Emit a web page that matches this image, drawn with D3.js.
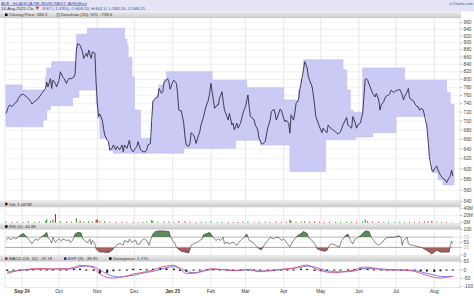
<!DOCTYPE html>
<html>
<head>
<meta charset="utf-8">
<script src="https://cdn.jsdelivr.net/npm/d3@7"></script>
<style>
body { margin: 0; background: #fff; }
svg { display: block; font-family: "Liberation Sans", Arial, sans-serif; }
</style>
</head>
<body>
<svg id="chart" width="474" height="296"></svg>
<script>
// days are calendar days counted from 19 Aug 2024
var startDate = new Date(2024, 7, 19);

// closing price [day, close]
var closes = [[0,717],[2,733],[3,737],[5,733],[7,741],[9,745],[10,753],[12,761],[14,763],[16,758],[18,753],[20,745],[21,739],[23,745],[25,749],[27,756],[29,765],[30,769],[32,777],[33,793],[34,781],[36,802],[37,777],[38,798],[40,790],[41,781],[43,798],[44,820],[46,806],[47,802],[49,790],[50,798],[51,802],[53,802],[55,806],[56,815],[57,879],[58,898],[60,893],[62,874],[63,856],[65,870],[66,861],[67,879],[69,856],[70,874],[72,870],[73,793],[74,741],[75,710],[76,716],[78,702],[79,684],[80,669],[82,658],[83,655],[84,638],[86,641],[87,648],[89,638],[90,645],[92,638],[94,648],[95,634],[96,648],[98,641],[100,658],[101,641],[103,634],[104,638],[106,645],[107,655],[109,638],[111,634],[113,634],[114,638],[115,648],[117,651],[118,700],[119,745],[121,753],[123,756],[124,777],[126,765],[127,769],[128,793],[130,798],[131,802],[132,793],[133,775],[135,793],[136,798],[138,790],[139,765],[140,725],[142,723],[144,695],[145,665],[146,648],[148,645],[149,651],[150,674],[152,669],[153,662],[154,651],[156,669],[157,676],[158,691],[160,709],[161,721],[162,733],[164,749],[165,765],[166,790],[168,749],[169,729],[171,737],[172,737],[173,753],[175,769],[176,745],[177,725],[179,710],[180,702],[181,718],[183,691],[184,695],[185,680],[187,695],[188,684],[190,695],[191,706],[192,718],[194,733],[196,761],[197,733],[198,710],[200,706],[201,702],[202,691],[204,680],[205,662],[207,651],[208,650],[210,655],[211,669],[212,684],[214,702],[215,721],[217,727],[218,718],[219,702],[221,718],[222,727],[223,725],[225,706],[226,698],[227,702],[229,695],[230,673],[231,714],[233,702],[234,718],[235,741],[237,749],[238,773],[239,790],[241,825],[242,847],[244,830],[245,806],[246,798],[248,781],[249,761],[250,737],[251,710],[253,695],[254,687],[256,674],[257,684],[258,680],[260,674],[261,691],[262,687],[264,682],[265,680],[267,676],[269,671],[271,676],[273,691],[276,708],[277,691],[279,686],[280,684],[281,710],[283,695],[284,684],[285,691],[287,695],[288,706],[289,718],[291,800],[292,802],[293,798],[295,781],[296,773],[297,765],[299,756],[300,765],[302,749],[303,725],[304,737],[306,745],[307,753],[308,758],[310,761],[311,765],[312,773],[314,767],[315,769],[316,772],[318,773],[319,775],[321,761],[322,749],[323,757],[325,769],[326,777],[327,753],[329,749],[330,747],[331,741],[333,733],[334,733],[335,725],[337,729],[338,725],[339,714],[341,687],[342,658],[343,624],[345,598],[346,595],[348,603],[349,606],[350,598],[352,588],[353,585],[354,582],[356,579],[357,574],[358,579],[360,587],[361,598],[362,586.2]];

// Donchian (20) channel, value from that day on [day, value]
var donchianUpper = [[0,786],[13,773],[32,806],[33,830],[37,847],[57,925],[66,943],[96,910],[98,892],[99,859],[102,806],[104,725],[109,662],[117,651],[118,695],[119,748],[121,756],[123,765],[124,786],[128,800],[130,820],[167,798],[195,779],[225,749],[237,773],[239,800],[241,852],[273,825],[276,773],[279,725],[281,720],[289,830],[323,798],[357,767],[360,738.6]];
var donchianLower = [[0,687],[30,702],[33,725],[36,735],[54,755],[59,773],[73,738],[74,705],[76,662],[83,648],[84,636],[87,631],[144,641],[186,658],[206,648],[230,595],[259,659],[283,665],[297,674],[316,710],[341,684],[342,655],[343,620],[345,593],[350,580],[354,570]];

// volume in millions [day, volume]
var volume = [[0,3],[5,2.5],[9,3],[14,2],[18,3.5],[23,2],[27,3],[32,4],[33,9.5],[36,5],[38,9],[40,24],[44,4],[49,2.5],[53,3],[57,12],[60,5],[63,3],[67,4],[70,3.5],[73,8],[74,9],[76,5],[80,4],[84,3],[89,2.5],[94,3],[98,2],[103,2.5],[107,2],[111,2.5],[114,3],[118,7],[119,5],[123,3],[128,4],[132,3],[136,2.5],[140,4],[145,3.5],[149,2.5],[154,2],[158,3],[162,2.5],[166,3.5],[171,2],[175,2.5],[180,2],[184,2.5],[188,2],[192,3],[196,3.5],[201,2],[205,2.5],[210,3],[214,2],[219,2.5],[223,2],[227,3],[230,8],[231,5],[235,3],[239,3.5],[242,4],[246,3],[250,3.5],[254,2.5],[258,2],[262,2.5],[267,2],[271,2],[276,2.5],[280,2],[284,2.5],[289,3],[291,9],[293,4],[297,3],[302,2.5],[306,2],[310,2.5],[315,2],[319,3],[323,2],[327,2.5],[331,2],[335,2.5],[339,3],[342,4],[345,5],[349,3],[353,2.5],[357,2],[362,1.067]];

// RSI (5) [day, rsi]
var rsi = [[0,57],[2,67],[4,59],[6,69],[8,63],[10,71],[12,79],[14,84],[16,75],[19,57],[21,44],[22,50],[24,63],[26,57],[28,69],[30,75],[32,84],[33,88],[34,69],[36,57],[37,47],[38,69],[40,50],[42,59],[43,63],[45,54],[46,63],[49,57],[51,59],[52,50],[54,57],[56,82],[58,88],[60,88],[61,84],[62,63],[64,57],[66,47],[68,63],[69,41],[70,57],[72,44],[73,25],[75,15],[76,12],[79,12],[82,10],[84,12],[86,19],[88,31],[91,44],[93,44],[95,38],[96,57],[99,50],[100,63],[102,50],[105,59],[106,44],[108,41],[110,57],[112,63],[114,57],[116,38],[117,57],[119,82],[121,92],[124,94],[127,94],[132,92],[133,75],[135,57],[137,44],[138,31],[140,22],[142,15],[145,12],[148,8],[150,38],[152,44],[155,50],[157,57],[159,63],[160,79],[163,84],[165,88],[168,69],[170,57],[172,63],[174,57],[176,69],[177,44],[179,50],[181,44],[184,50],[187,38],[190,57],[193,69],[195,82],[197,57],[200,50],[202,38],[205,25],[207,21],[209,38],[212,57],[214,69],[217,63],[218,69],[221,69],[223,57],[225,63],[228,44],[230,31],[232,50],[234,63],[236,75],[239,84],[241,92],[244,84],[245,69],[248,57],[251,38],[252,25],[255,19],[258,15],[260,19],[262,38],[264,44],[267,38],[270,31],[272,57],[275,75],[277,82],[279,57],[281,44],[282,57],[285,69],[287,75],[289,84],[291,94],[294,92],[296,69],[298,57],[300,44],[302,38],[305,50],[307,63],[309,69],[311,69],[314,69],[316,71],[318,75],[320,69],[321,38],[322,57],[325,69],[326,44],[329,38],[332,35],[335,31],[337,29],[340,21],[343,12],[345,4],[347,12],[349,19],[352,12],[356,12],[359,12],[360,38],[361,54],[362,44.88]];

// MACD (26,12) and EXP (9) signal [day, macd, signal]
var macd = [[1,-20,-12],[6,-10,-8],[11,0,-2],[17,4,2],[22,8,4],[28,10,6],[33,8,6],[38,6,6],[44,8,6],[49,8,6],[55,16,10],[60,28,20],[65,26,24],[71,12,20],[76,-24,0],[82,-44,-24],[87,-48,-38],[92,-44,-42],[98,-36,-36],[103,-24,-32],[109,-16,-22],[114,-10,-14],[119,0,-8],[125,16,4],[130,24,14],[136,28,20],[141,4,12],[146,-20,-8],[152,-20,-16],[157,-10,-12],[163,4,-2],[168,8,4],[173,4,4],[179,0,2],[184,-4,-2],[190,0,-2],[196,4,2],[201,-4,-2],[206,-10,-6],[212,-4,-6],[217,0,-2],[223,4,2],[228,8,6],[233,12,10],[239,24,16],[244,30,24],[250,10,18],[255,-4,6],[260,-12,-4],[266,-16,-10],[271,-12,-12],[277,-6,-10],[282,0,-6],[287,14,4],[293,18,10],[298,12,8],[304,4,6],[309,0,4],[314,0,2],[320,0,0],[325,-2,0],[331,-8,-4],[336,-20,-10],[341,-32,-20],[347,-44,-30],[352,-48,-38],[357,-44,-40],[362,-37.18,-38.95]];

var priceTicks = d3.range(540, 961, 20);
var volTicks = [0, 20, 40];
var rsiTicks = [0, 30, 50, 70, 100];
var macdTicks = [-100, -50, 0, 50];

function toDate(d) { return d3.timeDay.offset(startDate, d); }

var L = 5, R = 460;
var svg = d3.select("#chart");
var defs = svg.append("defs");

var grad = defs.append("linearGradient").attr("id", "strip").attr("x1", 0).attr("x2", 0).attr("y1", 0).attr("y2", 1);
grad.append("stop").attr("offset", "0%").attr("stop-color", "#ececec");
grad.append("stop").attr("offset", "55%").attr("stop-color", "#d9d9d9");
grad.append("stop").attr("offset", "100%").attr("stop-color", "#c9c9c9");

var x = d3.scaleTime().domain([toDate(0), toDate(347)]).range([6, 434.3]);
var months = d3.timeMonth.range(new Date(2024, 8, 1), new Date(2025, 8, 1));

// panel geometry
var panels = {
  main: { s0: 11.5, s1: 18, p1: 200.8 },
  vol:  { s0: 200.8, s1: 207, p1: 223.5 },
  rsi:  { s0: 223.5, s1: 229.3, p1: 255.5 },
  macd: { s0: 255.5, s1: 261.5, p1: 287.5 }
};

var yP = d3.scaleLog().domain([540, 960]).range([201.7, 22.7]);
var yV = d3.scaleLinear().domain([0, 40]).range([222.7, 208.3]);
var yR = d3.scaleLinear().domain([0, 100]).range([255, 229.5]);
var yM = d3.scaleLinear().domain([-100, 50]).range([286.7, 261.7]);

// header
svg.append("rect").attr("x", 0).attr("y", 0).attr("width", 474).attr("height", 11.5).attr("fill", "#e4e4f4");
svg.append("text").attr("x", 1).attr("y", 4.6).attr("font-size", 4.3).attr("fill", "#3a4aa8")
  .attr("text-decoration", "underline").text("AVE - ELIA ELIA RE (EURONEXT: AVE)(Eur)");
var hl = svg.append("text").attr("x", 1).attr("y", 9.7).attr("font-size", 4.3).attr("fill", "#333");
hl.append("tspan").text("14-Aug-2025 Clo ");
hl.append("tspan").attr("fill", "#e01818").attr("font-size", 5.5).text("\u25BC");
hl.append("tspan").attr("fill", "#3a4aa8").text(" -8.87 (-1.49%), O:609.20, H:602.0, L:583.20, C:586.21");
svg.append("text").attr("x", 473).attr("y", 4.8).attr("text-anchor", "end").attr("font-size", 4)
  .attr("fill", "#3a4aa8").text("ii-Charts.com");

// panels: strips, backgrounds, grids
Object.keys(panels).forEach(function(k) {
  var p = panels[k];
  svg.append("rect").attr("x", 0).attr("y", p.s0).attr("width", R + 1).attr("height", p.s1 - p.s0).attr("fill", "url(#strip)");
  svg.append("rect").attr("x", L).attr("y", p.s1).attr("width", R - L).attr("height", p.p1 - p.s1)
    .attr("fill", "#fff").attr("stroke", "#cfcfcf").attr("stroke-width", 0.5);
  defs.append("clipPath").attr("id", "clip-" + k).append("rect")
    .attr("x", L).attr("y", p.s1).attr("width", R - L).attr("height", p.p1 - p.s1);
  svg.append("g").selectAll("line").data(months).enter().append("line")
    .attr("x1", function(d) { return x(d); }).attr("x2", function(d) { return x(d); })
    .attr("y1", p.s1).attr("y2", p.p1).attr("stroke", "#dedede").attr("stroke-width", 0.7);
});

function hGrid(ticks, scale, panel, color) {
  var p = panels[panel];
  svg.append("g").selectAll("line").data(ticks.filter(function(t) { var y = scale(t); return y > p.s1 && y < p.p1; }))
    .enter().append("line").attr("x1", L).attr("x2", R)
    .attr("y1", function(t) { return scale(t); }).attr("y2", function(t) { return scale(t); })
    .attr("stroke", color).attr("stroke-width", 0.6);
}
function rightAxis(ticks, scale, fmt, colorFn) {
  var g = svg.append("g");
  g.selectAll("line").data(ticks).enter().append("line")
    .attr("x1", R).attr("x2", R + 2.5).attr("y1", function(t) { return scale(t); }).attr("y2", function(t) { return scale(t); })
    .attr("stroke", "#888").attr("stroke-width", 0.5);
  g.selectAll("text").data(ticks).enter().append("text")
    .attr("x", R + 3.5).attr("y", function(t) { return scale(t) + 1.7; })
    .attr("font-size", 4.8).attr("fill", function(t) { return colorFn ? colorFn(t) : "#444"; })
    .text(fmt);
}

hGrid(priceTicks, yP, "main", "#e8e8e8");
hGrid([20], yV, "vol", "#e8e8e8");
hGrid([50, 70], yR, "rsi", "#e4e4e4");
hGrid([50, 0, -50], yM, "macd", "#e4e4e4");

rightAxis(priceTicks, yP, function(t) { return t; });
rightAxis(volTicks, yV, function(t) { return t + "M"; });
rightAxis(rsiTicks, yR, function(t) { return t; }, function(t) { return (t === 30 || t === 70) ? "#b0b0b0" : "#444"; });
rightAxis(macdTicks, yM, function(t) { return t; });

// Donchian band: evaluate both step series on a shared set of days
function stepAt(series, d) {
  var v = series[0][1];
  series.forEach(function(s) { if (s[0] <= d) v = s[1]; });
  return v;
}
var bandDays = d3.sort(Array.from(new Set(donchianUpper.map(function(s) { return s[0]; })
  .concat(donchianLower.map(function(s) { return s[0]; })).concat([363]))));
var band = bandDays.map(function(d) { return { d: d, hi: stepAt(donchianUpper, d), lo: stepAt(donchianLower, d) }; });

var mainG = svg.append("g").attr("clip-path", "url(#clip-main)");
mainG.append("path").datum(band)
  .attr("d", d3.area().curve(d3.curveStepAfter)
    .x(function(b) { return x(toDate(b.d)); })
    .y0(function(b) { return yP(b.lo); }).y1(function(b) { return yP(b.hi); }))
  .attr("fill", "#cacaf5").attr("stroke", "#b4b4ec").attr("stroke-width", 0.5);

mainG.append("path").datum(closes)
  .attr("d", d3.line().x(function(c) { return x(toDate(c[0])); }).y(function(c) { return yP(c[1]); }))
  .attr("fill", "none").attr("stroke", "#2c2c44").attr("stroke-width", 0.9).attr("stroke-linejoin", "round");

// volume
var closeDays = closes.map(function(c) { return c[0]; });
function isUp(d) {
  var i = Math.max(1, d3.bisectRight(closeDays, d) - 1);
  return closes[i][1] >= closes[i - 1][1];
}
svg.append("g").attr("clip-path", "url(#clip-vol)").selectAll("rect").data(volume).enter().append("rect")
  .attr("x", function(v) { return x(toDate(v[0])) - 0.5; })
  .attr("y", function(v) { return yV(v[1]); })
  .attr("width", 1)
  .attr("height", function(v) { return yV(0) - yV(v[1]); })
  .attr("fill", function(v) { return isUp(v[0]) ? "#2e7d2e" : "#b01818"; });

// RSI
var rsiG = svg.append("g").attr("clip-path", "url(#clip-rsi)");
defs.append("clipPath").attr("id", "rsi-hi").append("rect").attr("x", L).attr("y", 0).attr("width", R - L).attr("height", yR(70));
defs.append("clipPath").attr("id", "rsi-lo").append("rect").attr("x", L).attr("y", yR(30)).attr("width", R - L).attr("height", 60);
var rx = function(r) { return x(toDate(r[0])); };
rsiG.append("g").attr("clip-path", "url(#rsi-hi)").append("path").datum(rsi)
  .attr("d", d3.area().x(rx).y0(yR(70)).y1(function(r) { return yR(r[1]); }))
  .attr("fill", "#5d8a5d").attr("stroke", "#3f6a3f").attr("stroke-width", 0.4);
rsiG.append("g").attr("clip-path", "url(#rsi-lo)").append("path").datum(rsi)
  .attr("d", d3.area().x(rx).y0(yR(30)).y1(function(r) { return yR(r[1]); }))
  .attr("fill", "#a45e5e").attr("stroke", "#7a3a3a").attr("stroke-width", 0.4);
rsiG.append("line").attr("x1", L).attr("x2", R).attr("y1", yR(30)).attr("y2", yR(30))
  .attr("stroke", "#d89090").attr("stroke-width", 0.7);
rsiG.append("path").datum(rsi)
  .attr("d", d3.line().x(rx).y(function(r) { return yR(r[1]); }))
  .attr("fill", "none").attr("stroke", "#555").attr("stroke-width", 0.7);

// MACD
var macdG = svg.append("g").attr("clip-path", "url(#clip-macd)");
macdG.selectAll("rect").data(macd).enter().append("rect")
  .attr("x", function(m) { return x(toDate(m[0])) - 1; })
  .attr("width", 2)
  .attr("y", function(m) { var h = yM(Math.max(0, m[1] - m[2])); return Math.min(h, yM(0) - 0.5); })
  .attr("height", function(m) { return Math.max(1, Math.abs(yM(m[1] - m[2]) - yM(0))); })
  .attr("fill", "#111");
macdG.append("path").datum(macd)
  .attr("d", d3.line().curve(d3.curveMonotoneX).x(function(m) { return x(toDate(m[0])); }).y(function(m) { return yM(m[2]); }))
  .attr("fill", "none").attr("stroke", "#5a5ad8").attr("stroke-width", 0.8);
macdG.append("path").datum(macd)
  .attr("d", d3.line().curve(d3.curveMonotoneX).x(function(m) { return x(toDate(m[0])); }).y(function(m) { return yM(m[1]); }))
  .attr("fill", "none").attr("stroke", "#e0507a").attr("stroke-width", 0.9);

// legends
function legend(y, items) {
  items.forEach(function(it) {
    svg.append("rect").attr("x", it.x).attr("y", y - 2.9).attr("width", 2.6).attr("height", 2.6)
      .attr("fill", it.c).attr("stroke", it.s || "none").attr("stroke-width", 0.4);
    svg.append("text").attr("x", it.x + 4).attr("y", y).attr("font-size", 4.3).attr("fill", "#333").text(it.t);
  });
}
legend(16.4, [{ x: 5, c: "#111", t: "Closing Price: 586.2" }, { x: 57, c: "#cacaf5", s: "#555", t: "Donchian (20): 570 - 738.6" }]);
legend(205.6, [{ x: 5, c: "#7a0a0a", t: "Vol: 1.067M" }]);
legend(228.1, [{ x: 5, c: "#111", t: "RSI (5): 44.88" }]);
legend(260.2, [{ x: 5, c: "#c81e3c", t: "MACD (26, 12): -37.18" }, { x: 64, c: "#2a2ab0", t: "EXP (9): -38.95" }, { x: 109, c: "#111", t: "Divergence: 1.770" }]);

// x axis month labels
svg.append("g").selectAll("text").data(months).enter().append("text")
  .attr("x", function(d) { return x(d); }).attr("y", 293.3)
  .attr("text-anchor", "middle").attr("font-size", 4.8).attr("fill", "#333")
  .attr("font-weight", function(d) { return (d.getMonth() === 0 || d.getMonth() === 8) ? "bold" : "normal"; })
  .text(function(d) { return (d.getMonth() === 0 || d.getMonth() === 8) ? d3.timeFormat("%b %y")(d) : d3.timeFormat("%b")(d); });
</script>
</body>
</html>
